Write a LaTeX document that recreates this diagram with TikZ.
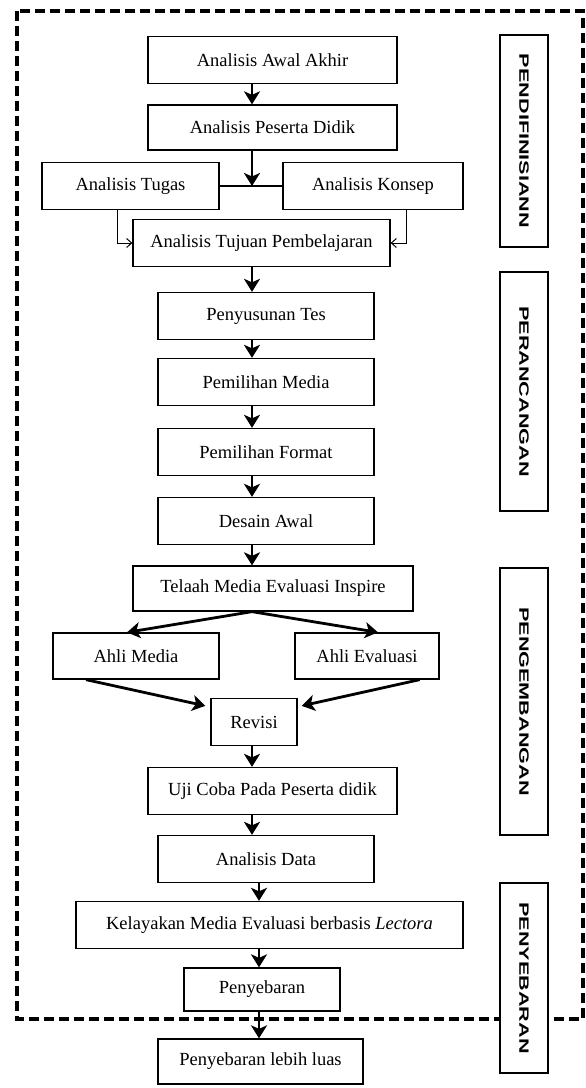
\documentclass[tikz,border=0pt]{standalone}
\usepackage{fontspec}
\setmainfont{Liberation Serif}
\newfontfamily\sidefont[FakeStretch=1.6]{Liberation Sans}
\usetikzlibrary{positioning, arrows.meta}

\begin{document}
\begin{tikzpicture}[x=1pt, y=-1pt,
    every node/.style={align=center, font=\fontsize{18.5}{21}\selectfont},
    box/.style={draw, line width=1.3pt, minimum height=47pt, inner sep=2pt, fill=white},
    phase/.style={draw, line width=1.3pt, minimum height=48pt, rotate=-90, fill=white, font=\sidefont\bfseries\fontsize{13.5}{15}\selectfont},
    arr/.style={-{Stealth[length=13pt, width=16pt, inset=3.5pt]}, line width=2.8pt},
    thinarr/.style={-{Straight Barb[length=5pt, width=9pt]}, line width=1pt},
    frame/.style={line width=3.2pt, dash pattern=on 10pt off 5pt}]

    \useasboundingbox (0,0) rectangle (586,1088);
    \coordinate (spine) at (252,0);
    \coordinate (spinelow) at (259,0);

    % Dashed frame
    \draw[frame] (17,11) rectangle (583,1019);

    % Analysis stage
    \node[box, minimum width=249pt] (awal) at (272.5,60) {Analisis Awal Akhir};
    \node[box, minimum width=249pt, minimum height=45pt] (peserta) at (272.5,127.5) {Analisis Peserta Didik};
    \node[box, minimum width=177pt] (tugas) at (130.5,186) {Analisis Tugas};
    \node[box, minimum width=180pt] (konsep) at (373,186) {Analisis Konsep};
    \node[box, minimum width=257pt] (tujuan) at (261.5,243) {Analisis Tujuan Pembelajaran};
    % Design stage
    \node[box, minimum width=216pt] (tes) at (266,316) {Penyusunan Tes};
    \node[box, minimum width=216pt] (media) at (266,382) {Pemilihan Media};
    \node[box, minimum width=216pt] (format) at (266,452) {Pemilihan Format};
    \node[box, minimum width=216pt] (desain) at (266,521) {Desain Awal};
    % Development stage
    \node[box, minimum width=280pt, minimum height=45pt] (telaah) at (273,588.5) {Telaah Media Evaluasi Inspire};
    \node[box, minimum width=166pt, minimum height=46pt] (ahlimedia) at (136,656) {Ahli Media};
    \node[box, minimum width=144pt, minimum height=46pt] (ahlieval) at (367,656) {Ahli Evaluasi};
    \node[box, minimum width=86pt] (revisi) at (254,722) {Revisi};
    \node[box, minimum width=249pt] (ujicoba) at (272.5,791) {Uji Coba Pada Peserta didik};
    \node[box, minimum width=216pt] (data) at (266,859) {Analisis Data};
    \node[box, minimum width=387pt] (kelayakan) at (269.5,925) {Kelayakan Media Evaluasi berbasis \textit{Lectora}};
    % Dissemination stage
    \node[box, minimum width=156pt, minimum height=43pt] (sebar) at (262,989.5) {Penyebaran};
    \node[box, minimum width=205pt, minimum height=45pt] (luas) at (260.5,1061.5) {Penyebaran lebih luas};

    % Phase labels
    \node[phase, minimum width=212pt] (pendef) at (524,141) {PENDIFINISIANN};
    \node[phase, minimum width=239pt] (rancang) at (524,391.5) {PERANCANGAN};
    \node[phase, minimum width=267pt] (kembang) at (524,701.5) {PENGEMBANGAN};
    \node[phase, minimum width=190pt] (sebaran) at (524,978) {PENYEBARAN};

    % Arrows analysis
    \draw[arr] (awal.south -| spine) -- (peserta.north -| spine);
    \draw[line width=1.5pt] (tugas.east) -- (konsep.west);
    \draw[arr] (peserta.south -| spine) -- (tugas.east -| spine);
    \draw[thinarr] ([xshift=-13.5pt]tugas.south) |- (tujuan.west);
    \draw[thinarr] ([xshift=33pt]konsep.south) |- (tujuan.east);
    % Arrows design
    \draw[arr] (tujuan.south -| spine) -- (tes.north -| spine);
    \draw[arr] (tes.south -| spine) -- (media.north -| spine);
    \draw[arr] (media.south -| spine) -- (format.north -| spine);
    \draw[arr] (format.south -| spine) -- (desain.north -| spine);
    \draw[arr] (desain.south -| spine) -- (telaah.north -| spine);
    % Arrows development
    \draw[arr] (telaah.south -| spine) -- ([xshift=-9pt]ahlimedia.north);
    \draw[arr] (telaah.south -| spine) -- ([xshift=11pt]ahlieval.north);
    \draw[arr] ([xshift=-50pt]ahlimedia.south) -- ([xshift=-5pt, yshift=-8pt]revisi.north west);
    \draw[arr] ([xshift=-20pt]ahlieval.south east) -- ([xshift=4pt, yshift=-8pt]revisi.north east);
    \draw[arr] (revisi.south -| spine) -- (ujicoba.north -| spine);
    \draw[arr] (ujicoba.south -| spine) -- (data.north -| spine);
    \draw[arr] (data.south -| spinelow) -- (kelayakan.north -| spinelow);
    \draw[arr] (kelayakan.south -| spinelow) -- (sebar.north -| spinelow);
    \draw[arr] (sebar.south -| spinelow) -- (luas.north -| spinelow);
\end{tikzpicture}
\end{document}
